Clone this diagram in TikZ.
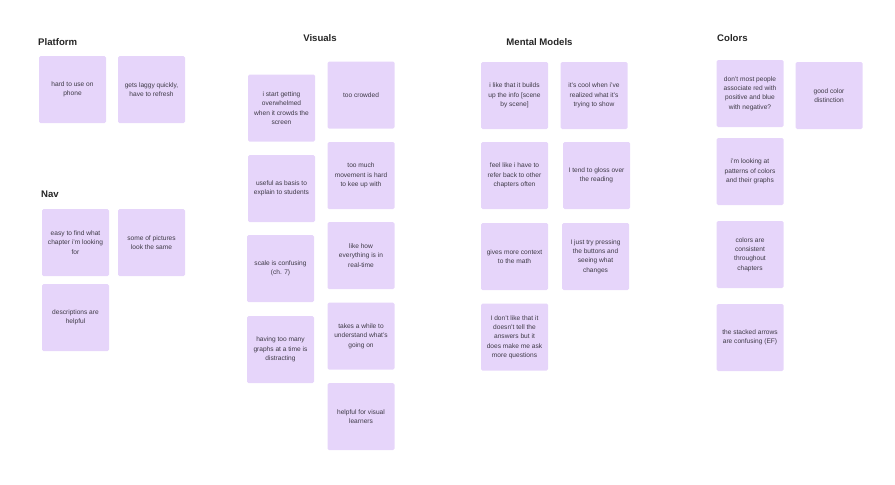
\documentclass[tikz,border=0pt]{standalone}
\usepackage{fontspec}
\setmainfont{Liberation Sans}
\usepackage{tikz}
\usetikzlibrary{positioning}
\definecolor{stickyfill}{HTML}{E6D5FA}
\definecolor{stickytext}{HTML}{3E3A46}
\definecolor{headtext}{HTML}{262626}

\tikzset{
  sticky/.style={fill=stickyfill, rounded corners=1.5pt, minimum width=67pt, minimum height=67pt,
    align=center, inner sep=0pt, text=stickytext,
    font=\fontsize{6.6}{9.3}\selectfont},
  heading/.style={font=\fontsize{9.6}{11}\selectfont\bfseries, text=headtext, inner sep=0pt}
}

\begin{document}
\begin{tikzpicture}[x=1pt, y=-1pt]
    \useasboundingbox (0,0) rectangle (895,485);
    % Platform
    \node[heading, anchor=west] (platform) at (38,42) {Platform};
    \node[sticky] (plat1) at (72.5,89.5) {hard to use on\\phone};
    \node[sticky] (plat2) at (151.5,89.5) {gets laggy quickly,\\have to refresh};
    % Nav
    \node[heading, anchor=west] (nav) at (41,194) {Nav};
    \node[sticky] (nav1) at (75.5,242.5) {easy to find what\\chapter i'm looking\\for};
    \node[sticky] (nav2) at (151.5,242.5) {some of pictures\\look the same};
    \node[sticky] (nav3) at (75.5,317.5) {descriptions are\\helpful};
    % Visuals
    \node[heading] (visuals) at (320,38) {Visuals};
    \node[sticky] (vis1) at (281.5,108) {i start getting\\overwhelmed\\when it crowds the\\screen};
    \node[sticky] (vis2) at (361,95) {too crowded};
    \node[sticky] (vis3) at (281.5,188.5) {useful as basis to\\explain to students};
    \node[sticky] (vis4) at (361,175.5) {too much\\movement is hard\\to kee up with};
    \node[sticky] (vis5) at (280.5,268.5) {scale is confusing\\(ch. 7)};
    \node[sticky] (vis6) at (361,255.5) {like how\\everything is in\\real-time};
    \node[sticky] (vis7) at (280.5,349.5) {having too many\\graphs at a time is\\distracting};
    \node[sticky] (vis8) at (361,336) {takes a while to\\understand what's\\going on};
    \node[sticky] (vis9) at (361,416.5) {helpful for visual\\learners};
    % Mental Models
    \node[heading] (mental) at (539.5,42) {Mental Models};
    \node[sticky] (men1) at (514.5,95.5) {i like that it builds\\up the info [scene\\by scene]};
    \node[sticky] (men2) at (594,95.5) {it's cool when i've\\realized what it's\\trying to show};
    \node[sticky] (men3) at (514.5,175.5) {feel like i have to\\refer back to other\\chapters often};
    \node[sticky] (men4) at (596.5,175.5) {I tend to gloss over\\the reading};
    \node[sticky] (men5) at (514.5,256.5) {gives more context\\to the math};
    \node[sticky] (men6) at (595.5,256.5) {I just try pressing\\the buttons and\\seeing what\\changes};
    \node[sticky] (men7) at (514.5,337) {I don't like that it\\doesn't tell the\\answers but it\\does make me ask\\more questions};
    % Colors
    \node[heading, anchor=west] (colors) at (717,38) {Colors};
    \node[sticky] (col1) at (750,93.5) {don't most people\\associate red with\\positive and blue\\with negative?};
    \node[sticky] (col2) at (829,95.5) {good color\\distinction};
    \node[sticky] (col3) at (750,171.5) {i'm looking at\\patterns of colors\\and their graphs};
    \node[sticky] (col4) at (750,254.5) {colors are\\consistent\\throughout\\chapters};
    \node[sticky] (col5) at (750,337.5) {the stacked arrows\\are confusing (EF)};
\end{tikzpicture}
\end{document}
